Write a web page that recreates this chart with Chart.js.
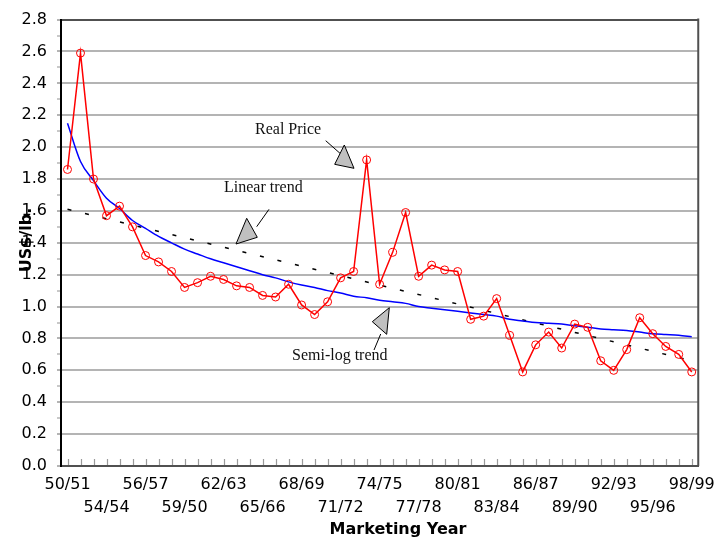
<!DOCTYPE html>
<html>
<head>
<meta charset="utf-8">
<script src="https://cdn.jsdelivr.net/npm/chart.js@4.4.0/dist/chart.umd.min.js"></script>
<style>
  html, body { margin: 0; padding: 0; background: #fff; }
</style>
</head>
<body>
<canvas id="priceChart" width="722" height="537"></canvas>
<script>
// marketing years (as labelled on the original chart)
var categories = [
    "50/51","51/52","52/53","54/54","54/55","55/56","56/57","57/58","58/59","59/50",
    "60/61","61/62","62/63","63/64","64/65","65/66","66/67","67/68","68/69","69/70",
    "70/71","71/72","72/73","73/74","74/75","75/76","76/77","77/78","78/79","79/80",
    "80/81","81/82","82/83","83/84","84/85","85/86","86/87","87/88","88/89","89/90",
    "90/91","91/92","92/93","93/94","94/95","95/96","96/97","97/98","98/99"
];

// real price, US$/lb.
var realPrice = [
    1.86, 2.59, 1.80, 1.57, 1.63, 1.50, 1.32, 1.28, 1.22, 1.12,
    1.15, 1.19, 1.17, 1.13, 1.12, 1.07, 1.06, 1.14, 1.01, 0.95,
    1.03, 1.18, 1.22, 1.92, 1.14, 1.34, 1.59, 1.19, 1.26, 1.23,
    1.22, 0.92, 0.94, 1.05, 0.82, 0.59, 0.76, 0.84, 0.74, 0.89,
    0.87, 0.66, 0.60, 0.73, 0.93, 0.83, 0.75, 0.70, 0.59
];

// semi-log trend
var semiLogTrend = [
    2.15, 1.91, 1.79, 1.68, 1.615, 1.54, 1.49, 1.44, 1.40, 1.36,
    1.33, 1.30, 1.275, 1.25, 1.225, 1.20, 1.18, 1.155, 1.135, 1.12,
    1.10, 1.085, 1.065, 1.055, 1.04, 1.03, 1.02, 1.00, 0.99, 0.98,
    0.97, 0.96, 0.95, 0.94, 0.92, 0.91, 0.90, 0.895, 0.89, 0.88,
    0.87, 0.86, 0.855, 0.85, 0.84, 0.83, 0.825, 0.82, 0.81
];

// linear trend: first and last year
var linearTrend = [1.61, 0.66];

var yTicks = { min: 0, max: 2.8, step: 0.1 };

var decorations = {
    id: 'decorations',
    afterDraw: function (chart) {
        var ctx = chart.ctx;
        var area = chart.chartArea;
        var x = chart.scales.x;
        ctx.save();

        // right frame
        ctx.strokeStyle = '#505050';
        ctx.lineWidth = 2;
        ctx.beginPath();
        ctx.moveTo(area.right, area.top - 1);
        ctx.lineTo(area.right, area.bottom);
        ctx.stroke();

        // small tick marks on the x axis, pointing up
        ctx.strokeStyle = '#9a9a9a';
        ctx.lineWidth = 1.2;
        for (var i = 0; i < categories.length; i++) {
            var px = Math.round(x.getPixelForValue(i)) + 0.5;
            ctx.beginPath();
            ctx.moveTo(px, area.bottom - 1);
            ctx.lineTo(px, area.bottom - 7);
            ctx.stroke();
        }

        // axis titles
        ctx.fillStyle = '#000';
        ctx.font = 'bold 16px "DejaVu Sans"';
        ctx.textAlign = 'center';
        ctx.textBaseline = 'alphabetic';
        ctx.fillText('Marketing Year', 398, 534);

        ctx.save();
        ctx.translate(31, 240);
        ctx.rotate(-Math.PI / 2);
        ctx.fillText('US$/lb.', 0, 0);
        ctx.restore();

        // callouts
        ctx.font = '16px "Liberation Serif"';
        ctx.textAlign = 'left';
        ctx.fillStyle = '#111';
        ctx.fillText('Real Price', 255, 134);
        ctx.fillText('Linear trend', 224, 192);
        ctx.fillText('Semi-log trend', 292, 360);

        arrow(ctx, [325.7, 140.7], [340, 153.3], [[344.3, 145], [354, 168.3], [334.7, 164.3]]);
        arrow(ctx, [269, 209.3], [256.7, 226.7], [[246.7, 218.3], [257.3, 237.3], [236, 244]]);
        arrow(ctx, [374, 350], [380.7, 334], [[372.3, 321.7], [389.3, 307.7], [386.7, 334.3]]);

        ctx.restore();
    }
};

function arrow(ctx, from, to, head) {
    ctx.strokeStyle = '#000';
    ctx.lineWidth = 1;
    ctx.beginPath();
    ctx.moveTo(from[0], from[1]);
    ctx.lineTo(to[0], to[1]);
    ctx.stroke();
    ctx.beginPath();
    ctx.moveTo(head[0][0], head[0][1]);
    ctx.lineTo(head[1][0], head[1][1]);
    ctx.lineTo(head[2][0], head[2][1]);
    ctx.closePath();
    ctx.fillStyle = '#c0c0c0';
    ctx.fill();
    ctx.stroke();
    ctx.fillStyle = '#111';
}

var ctx = document.getElementById('priceChart');

var priceChart = new Chart(ctx, {
    type: 'line',
    data: {
        labels: categories,
        datasets: [
            {
                label: 'Real Price',
                data: realPrice,
                borderColor: '#ff0000',
                borderWidth: 1.5,
                pointStyle: 'circle',
                pointRadius: 4,
                pointBorderWidth: 1,
                pointBorderColor: '#ff0000',
                pointBackgroundColor: 'rgba(0,0,0,0)',
                tension: 0
            },
            {
                label: 'Semi-log trend',
                data: semiLogTrend,
                borderColor: '#0000ff',
                borderWidth: 1.5,
                pointRadius: 0,
                cubicInterpolationMode: 'monotone'
            },
            {
                label: 'Linear trend',
                data: [
                    { x: categories[0], y: linearTrend[0] },
                    { x: categories[categories.length - 1], y: linearTrend[1] }
                ],
                borderColor: '#000',
                borderWidth: 1.5,
                borderDash: [4, 14],
                pointRadius: 0,
                tension: 0
            }
        ]
    },
    options: {
        responsive: false,
        animation: false,
        layout: { padding: { top: 19, right: 20, left: 0, bottom: 0 } },
        plugins: {
            legend: { display: false },
            tooltip: { enabled: false }
        },
        scales: {
            x: {
                offset: true,
                grid: { display: true, drawOnChartArea: false, drawTicks: false },
                border: { display: true, color: '#505050', width: 2 },
                ticks: {
                    autoSkip: false,
                    maxRotation: 0,
                    minRotation: 0,
                    padding: 7,
                    color: '#000',
                    font: { family: '"DejaVu Sans"', size: 16, lineHeight: 1.47 },
                    callback: function (value, index) {
                        if (index % 3 !== 0) return '';
                        var lab = categories[index];
                        return (index / 3) % 2 === 0 ? lab : ['', lab];
                    }
                },
                afterFit: function (scale) { scale.height = 71; }
            },
            y: {
                min: yTicks.min,
                max: yTicks.max,
                grid: {
                    lineWidth: 2,
                    tickLength: 4,
                    color: function (c) {
                        if (c.index === 28) return '#505050';
                        return c.index % 2 === 0 ? '#b4b4b4' : 'rgba(0,0,0,0)';
                    },
                    tickColor: function (c) {
                        return c.index % 2 === 0 ? '#b4b4b4' : '#c8c8c8';
                    }
                },
                border: { display: true, color: '#000', width: 2 },
                ticks: {
                    stepSize: yTicks.step,
                    autoSkip: false,
                    padding: 10,
                    color: '#000',
                    font: { family: '"DejaVu Sans"', size: 16 },
                    callback: function (value, index) {
                        return index % 2 === 0 ? value.toFixed(1) : '';
                    }
                },
                afterFit: function (scale) { scale.width = 61; }
            }
        }
    },
    plugins: [decorations]
});
</script>
</body>
</html>
